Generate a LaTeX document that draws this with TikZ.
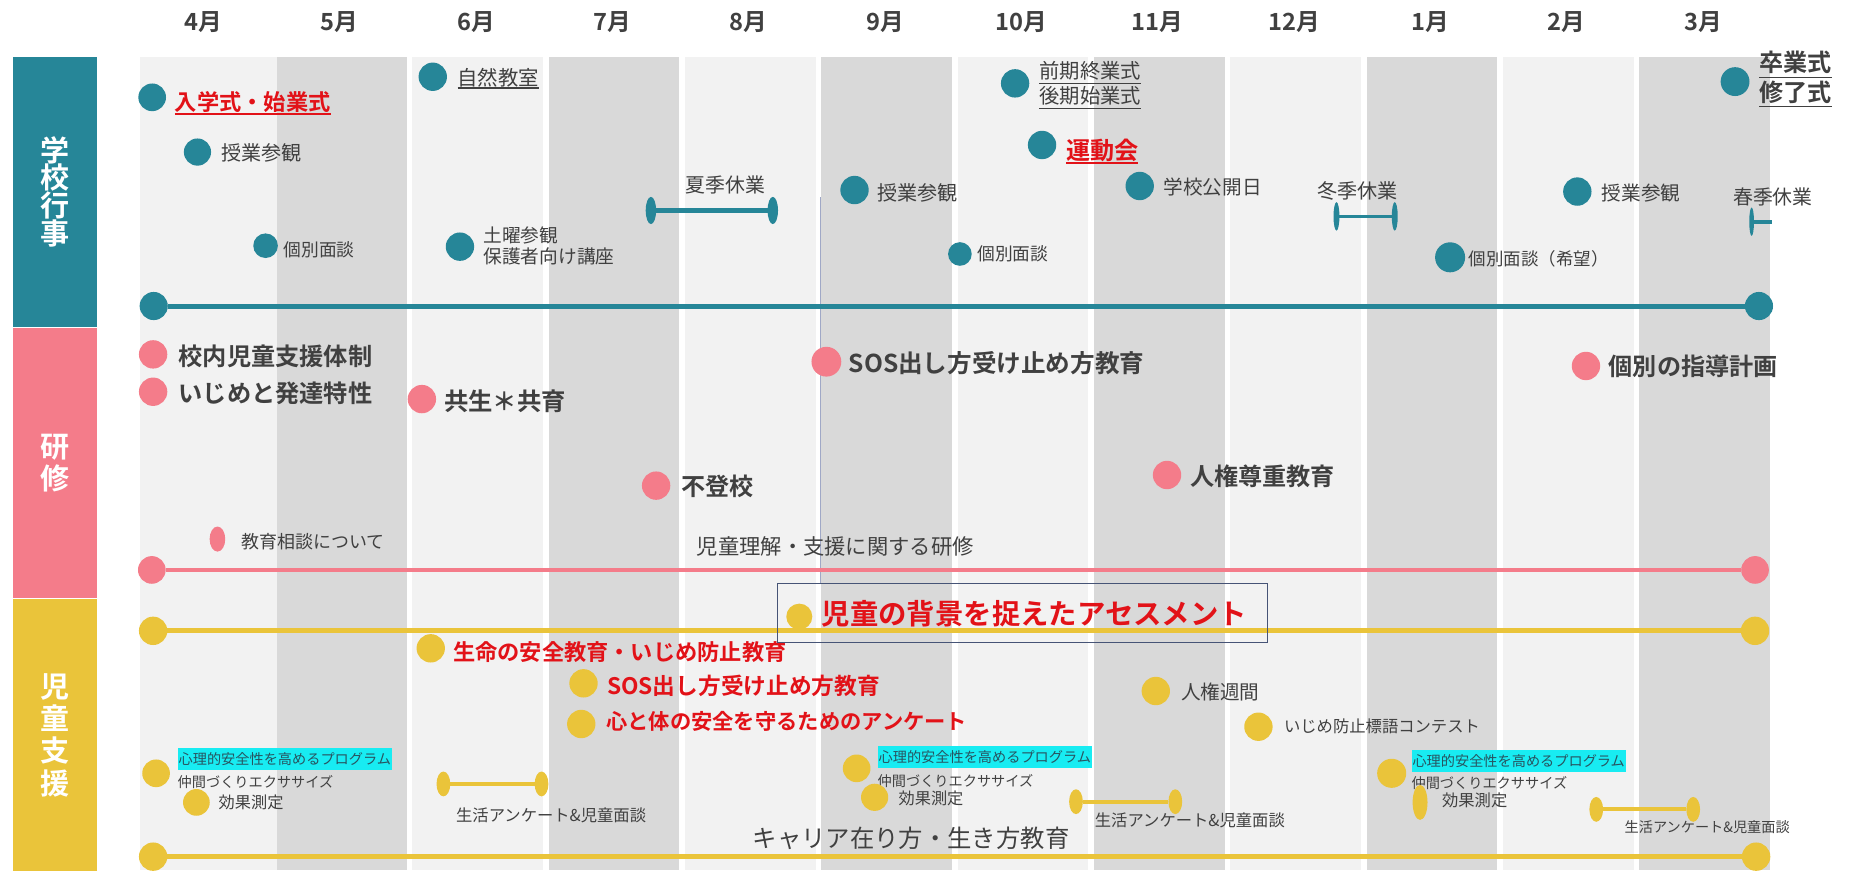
\documentclass[tikz,border=0pt]{standalone}
\usepackage{fontspec}
\setmainfont{Noto Sans CJK JP}[BoldFont={Noto Sans CJK JP Bold}]
\usetikzlibrary{shapes.geometric}
\definecolor{schteal}{RGB}{38,134,152}
\definecolor{trpink}{RGB}{244,124,138}
\definecolor{supyel}{RGB}{234,196,58}
\definecolor{bandlt}{RGB}{242,242,242}
\definecolor{banddk}{RGB}{217,217,217}
\definecolor{txtgray}{RGB}{64,64,64}
\definecolor{txtred}{RGB}{226,18,24}
\definecolor{hlcyan}{RGB}{24,236,242}
\definecolor{hltext}{RGB}{40,84,96}
\definecolor{boxline}{RGB}{70,84,118}
\definecolor{thinblue}{RGB}{160,168,198}
\newcommand{\fs}[1]{\fontsize{#1}{#1}\selectfont}
\begin{document}
\begin{tikzpicture}[x=0.5pt,y=-0.5pt,inner sep=0pt,outer sep=0pt,
tdot/.style={circle,fill=schteal,minimum size=#1},tdot/.default=12pt,
pdot/.style={circle,fill=trpink,minimum size=#1},pdot/.default=12pt,
ydot/.style={circle,fill=supyel,minimum size=#1},ydot/.default=12pt,
cap/.style={ellipse,fill=#1},
lbl/.style={anchor=west,text=txtgray,font=\fs{#1}},
blbl/.style={lbl=#1,font=\fs{#1}\bfseries},
rlbl/.style={blbl=#1,text=txtred},
month/.style={text=txtgray,font=\fs{10}\bfseries},
catbox/.style={fill=#1,minimum width=35.8pt,text=white,align=center},
hilite/.style={anchor=west,fill=hlcyan,text=hltext,font=\fs{6},minimum height=9.3pt,inner xsep=0.4pt},
twoline/.style={lbl=#1,align=left}]
\useasboundingbox (0,0) rectangle (1568,736);
% month columns
\foreach \i in {0,...,11}{
  \ifodd\i \def\bandc{banddk}\else\def\bandc{bandlt}\fi
  \fill[\bandc] ({118.2+115.3*\i},48) rectangle ({113.2+115.3*(\i+1)},736);
}
\fill[bandlt] (228,48) rectangle (234,736);
\foreach \m [count=\i from 0] in {4,5,6,7,8,9,10,11,12,1,2,3}
  \node[month] (m\m) at ({172+115.3*\i},19) {\m 月};
% category bars
\node[catbox=schteal,minimum height=114.25pt,font=\fontsize{12.3}{11.8}\selectfont\bfseries] (gakko) at (46.5,162.2) {学\\校\\行\\事};
\node[catbox=trpink,minimum height=114pt,font=\fontsize{12.3}{13.4}\selectfont\bfseries] (kenshu) at (46.5,391.5) {研\\修};
\node[catbox=supyel,minimum height=114.75pt,font=\fontsize{12.3}{13.7}\selectfont\bfseries] (shien) at (46.5,621.6) {児\\童\\支\\援};
\draw[thinblue,line width=0.5pt] (694,167) -- (694,493);

% school events
\node[tdot=11.9pt] (tlA) at (130,258.8) {};
\node[tdot=11.9pt] (tlB) at (1487.6,258.8) {};
\draw[schteal,line width=2.1pt] (tlA) -- (tlB);
\node[tdot=11.7pt] (nyugaku) at (128.7,82.3) {};
\node[rlbl=9.4] (nyugakuT) at (148,86.5) {入学式・始業式};
\draw[txtred,line width=1pt] ([yshift=-0.6pt]nyugakuT.south west) -- ([yshift=-0.6pt]nyugakuT.south east);
\node[tdot=11.5pt] (jugyoA) at (167,128.6) {};
\node[lbl=8.5] (jugyoAT) at (187,129.7) {授業参観};
\node[tdot=10.4pt] (kobetsuA) at (224.6,207.8) {};
\node[lbl=7.5] (kobetsuAT) at (240,211.4) {個別面談};
\node[tdot] (shizen) at (366,64.9) {};
\node[lbl=8.6] (shizenT) at (387,65.4) {自然教室};
\draw[txtgray,line width=0.7pt] ([yshift=-0.6pt]shizenT.south west) -- ([yshift=-0.6pt]shizenT.south east);
\node[tdot] (doyo) at (389,208.6) {};
\node[twoline=7.9,font=\fontsize{7.9}{9.1}\selectfont] (doyoT) at (409,207.9) {土曜参観\\保護者向け講座};
\node[cap=schteal,minimum width=4.4pt,minimum height=11.5pt] (natsuA) at (550.5,178) {};
\node[cap=schteal,minimum width=4.4pt,minimum height=11.5pt] (natsuB) at (653.6,178) {};
\draw[schteal,line width=2pt] (natsuA) -- (natsuB);
\node[text=txtgray,font=\fs{8.4}] (natsuT) at (613.5,156.5) {夏季休業};
\node[tdot] (jugyoB) at (722.7,160.7) {};
\node[lbl=8.5] (jugyoBT) at (742,163) {授業参観};
\node[tdot=10pt] (kobetsuB) at (811.8,214.8) {};
\node[lbl=7.5] (kobetsuBT) at (826.5,214.8) {個別面談};
\node[tdot] (zenki) at (858.5,70.5) {};
\node[twoline=8.6,font=\fontsize{8.6}{9.85}\selectfont] (zenkiT) at (879,72.4) {\underline{前期終業式}\\\underline{後期始業式}};
\node[tdot] (undokai) at (881.3,122.6) {};
\node[rlbl=10.2] (undokaiT) at (901.6,126.9) {運動会};
\draw[txtred,line width=1pt] ([yshift=-0.6pt]undokaiT.south west) -- ([yshift=-0.6pt]undokaiT.south east);
\node[tdot] (koukai) at (963.9,157.3) {};
\node[lbl=8.3] (koukaiT) at (984,158.4) {学校公開日};
\node[cap=schteal,minimum width=2.5pt,minimum height=12pt] (fuyuA) at (1130.3,183) {};
\node[cap=schteal,minimum width=2.5pt,minimum height=12pt] (fuyuB) at (1179.6,183) {};
\draw[schteal,line width=1.5pt] (fuyuA) -- (fuyuB);
\node[text=txtgray,font=\fs{8.5}] (fuyuT) at (1148.3,161.3) {冬季休業};
\node[tdot=12.7pt] (kobetsuC) at (1226.4,217.6) {};
\node[lbl=7.4] (kobetsuCT) at (1242,218.5) {個別面談（希望）};
\node[tdot] (jugyoC) at (1334,162) {};
\node[lbl=8.3] (jugyoCT) at (1354.7,163.5) {授業参観};
\node[cap=schteal,minimum width=2pt,minimum height=12pt] (haruA) at (1481.4,187.5) {};
\coordinate (haruB) at (1498.6,187.5);
\draw[schteal,line width=1.7pt] (haruA) -- (haruB);
\node[text=txtgray,font=\fs{8.4}] (haruT) at (1499.4,166.9) {春季休業};
\node[tdot=12.2pt] (sotsugyo) at (1467.4,69) {};
\node[twoline=10.2,font=\fontsize{10.2}{10.4}\selectfont\bfseries] (sotsugyoT) at (1488,67.4) {\underline{卒業式}\\\underline{修了式}};

% training
\node[pdot=11.7pt] (trA) at (128.4,482) {};
\node[pdot=11.7pt] (trB) at (1484.3,482) {};
\draw[trpink,line width=2pt] (trA) -- (trB);
\node[pdot] (konai) at (129.5,299.7) {};
\node[blbl=10.25] (konaiT) at (151,301) {校内児童支援体制};
\node[pdot] (hattatsu) at (129.5,331.3) {};
\node[blbl=10.25] (hattatsuT) at (151,332.6) {いじめと発達特性};
\node[pdot] (kyosei) at (356.8,337.5) {};
\node[blbl=10.3] (kyoseiT) at (375.6,339.7) {共生＊共育};
\node[pdot] (futoko) at (554.9,410.7) {};
\node[blbl=10.2] (futokoT) at (576,411.6) {不登校};
\node[cap=trpink,minimum width=6.6pt,minimum height=10.6pt] (sodan) at (183.9,455.9) {};
\node[lbl=7.6] (sodanT) at (204,458) {教育相談について};
\node[pdot=12.6pt] (sosA) at (698.9,305.9) {};
\node[blbl=10.4] (sosAT) at (717.8,307.3) {SOS出し方受け止め方教育};
\node[lbl=9] (rikaiT) at (589.4,462.3) {児童理解・支援に関する研修};
\node[pdot] (jinken) at (987,401.7) {};
\node[blbl=10.2] (jinkenT) at (1006.5,403) {人権尊重教育};
\node[pdot] (shido) at (1341.3,309.5) {};
\node[blbl=10.2] (shidoT) at (1360.6,310) {個別の指導計画};

% child support
\node[ydot] (spA) at (129.5,533.5) {};
\node[ydot] (spB) at (1484.3,533.5) {};
\draw[supyel,line width=2pt] (spA) -- (spB);
\node[ydot] (caA) at (129.5,724.5) {};
\node[ydot] (caB) at (1485.2,724.5) {};
\draw[supyel,line width=2pt] (caA) -- (caB);
\node[draw=boxline,line width=0.6pt,minimum width=207.2pt,minimum height=25pt] (assessbox) at (864.6,518.5) {};
\node[ydot=11pt] (assess) at (676,521.5) {};
\node[rlbl=12] (assessT) at (695,518.7) {児童の背景を捉えたアセスメント};
\node[ydot] (seimei) at (364.3,548.3) {};
\node[rlbl=9.4] (seimeiT) at (383.2,551.2) {生命の安全教育・いじめ防止教育};
\node[ydot] (sosB) at (493.5,577.9) {};
\node[rlbl=9.6] (sosBT) at (513.5,580.2) {SOS出し方受け止め方教育};
\node[ydot] (kokoro) at (491.6,612.3) {};
\node[rlbl=9] (kokoroT) at (512.7,610.4) {心と体の安全を守るためのアンケート};
\node[ydot] (jinkenw) at (977.5,584.4) {};
\node[lbl=8.3] (jinkenwT) at (998.9,585) {人権週間};
\node[ydot] (hyogo) at (1064.3,614.6) {};
\node[lbl=6.9] (hyogoT) at (1086,614.6) {いじめ防止標語コンテスト};
% programs
\node[ydot=11.7pt] (progA) at (132,654) {};
\node[hilite] (progAT) at (150.3,642) {心理的安全性を高めるプログラム};
\node[lbl=6] (nakamaA) at (150.3,661.6) {仲間づくりエクササイズ};
\node[ydot=11.3pt] (kokaA) at (166.1,678.6) {};
\node[lbl=6.85] (kokaAT) at (185,678.6) {効果測定};
\node[ydot=11.7pt] (progB) at (724.5,649.8) {};
\node[hilite] (progBT) at (742.3,640.5) {心理的安全性を高めるプログラム};
\node[lbl=6] (nakamaB) at (742.3,660.5) {仲間づくりエクササイズ};
\node[ydot=11.5pt] (kokaB) at (739.7,674.3) {};
\node[lbl=6.85] (kokaBT) at (760,675.2) {効果測定};
\node[ydot=12.3pt] (progC) at (1177,654) {};
\node[hilite] (progCT) at (1193.8,643.3) {心理的安全性を高めるプログラム};
\node[lbl=6] (nakamaC) at (1193.8,662.5) {仲間づくりエクササイズ};
\node[cap=supyel,minimum width=6.3pt,minimum height=14.8pt] (kokaC) at (1201,678.6) {};
\node[lbl=6.9] (kokaCT) at (1219.6,676.6) {効果測定};
% survey spans
\node[cap=supyel,minimum width=5.8pt,minimum height=10.5pt] (seikatsuA1) at (375,663) {};
\node[cap=supyel,minimum width=5.8pt,minimum height=10.5pt] (seikatsuA2) at (458,663) {};
\draw[supyel,line width=1.7pt] (seikatsuA1) -- (seikatsuA2);
\node[lbl=6.9] (seikatsuAT) at (385.8,689.3) {生活アンケート\&児童面談};
\node[cap=supyel,minimum width=5.8pt,minimum height=10.5pt] (seikatsuB1) at (910,678) {};
\node[cap=supyel,minimum width=5.8pt,minimum height=10.5pt] (seikatsuB2) at (994,678) {};
\draw[supyel,line width=1.7pt] (seikatsuB1) -- (seikatsuB2);
\node[lbl=6.9] (seikatsuBT) at (926,694.1) {生活アンケート\&児童面談};
\node[cap=supyel,minimum width=5.8pt,minimum height=10.5pt] (seikatsuC1) at (1350,684.5) {};
\node[cap=supyel,minimum width=5.8pt,minimum height=10.5pt] (seikatsuC2) at (1432,684.5) {};
\draw[supyel,line width=1.7pt] (seikatsuC1) -- (seikatsuC2);
\node[lbl=6] (seikatsuCT) at (1374,699.7) {生活アンケート\&児童面談};
\node[lbl=10.3] (careerT) at (636.6,709) {キャリア在り方・生き方教育};
\end{tikzpicture}
\end{document}
